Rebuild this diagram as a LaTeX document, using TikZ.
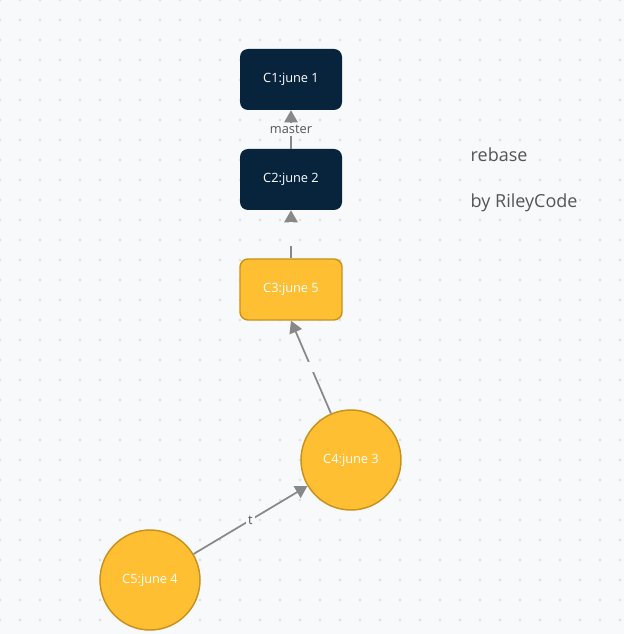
\documentclass[tikz,border=0pt]{standalone}
\usepackage{fontspec}
\setmainfont{Open Sans}
\usetikzlibrary{arrows.meta}
\definecolor{bgcol}{HTML}{F8F9FB}
\definecolor{dotcol}{HTML}{DCDDE2}
\definecolor{navy}{HTML}{08243D}
\definecolor{amber}{HTML}{FFBF33}
\definecolor{amberline}{HTML}{C8921C}
\definecolor{linkcol}{HTML}{888888}
\definecolor{txtcol}{HTML}{555555}
\tikzset{
  commitbox/.style={rectangle, rounded corners=6pt, minimum width=76.5pt, minimum height=45.75pt, inner sep=0pt, text=white, font=\fontsize{9.6}{11}\selectfont},
  oldcommit/.style={commitbox, fill=navy},
  newcommit/.style={commitbox, fill=amber, draw=amberline, line width=1.1pt},
  commitdot/.style={circle, minimum size=75pt, inner sep=0pt, fill=amber, draw=amberline, line width=1.1pt, text=white, font=\fontsize{9.6}{11}\selectfont},
  link/.style={draw=linkcol, line width=1.3pt, -{Triangle[width=10pt,length=9pt]}},
  linklabel/.style={fill=bgcol, inner sep=1.5pt, text=txtcol, font=\fontsize{9.6}{11}\selectfont},
}
\begin{document}
\begin{tikzpicture}[x=0.75pt,y=0.75pt,yscale=-1,xscale=1]
	%background and dot grid
	\fill[bgcol] (0,0) rectangle (624,634);
	\useasboundingbox (0,0) rectangle (624,634);
	\foreach \gx in {0,20,...,620}
		\foreach \gy in {0,20,...,620}
			\fill[dotcol] (\gx,\gy) circle (1.1pt);
	
	%Commits
	\node[oldcommit] (c1) at (291,79.5) {C1:june 1};
	\node[oldcommit] (c2) at (291,179.5) {C2:june 2};
	\node[newcommit] (c3) at (291,289.5) {C3:june 5};
	\node[commitdot] (c4) at (351,460) {C4:june 3};
	\node[commitdot] (c5) at (150,580) {C5:june 4};
	
	%Links
	\draw[link] (c2) -- node[linklabel] {master} (c1);
	\draw[link] (c3) -- node[linklabel, minimum height=18pt] {} (c2);
	\draw[link] (c4) -- node[linklabel, minimum size=7pt] {} (c3.south);
	\draw[link] (c5) -- node[linklabel] {t} (c4);
	
	% Text Node
	\node[anchor=west, text=txtcol, font=\fontsize{13.5}{16}\selectfont] (title) at (466,155) {rebase};
	% Text Node
	\node[anchor=west, text=txtcol, font=\fontsize{13.5}{16}\selectfont] (author) at (466,203) {by RileyCode};
\end{tikzpicture}
\end{document}
